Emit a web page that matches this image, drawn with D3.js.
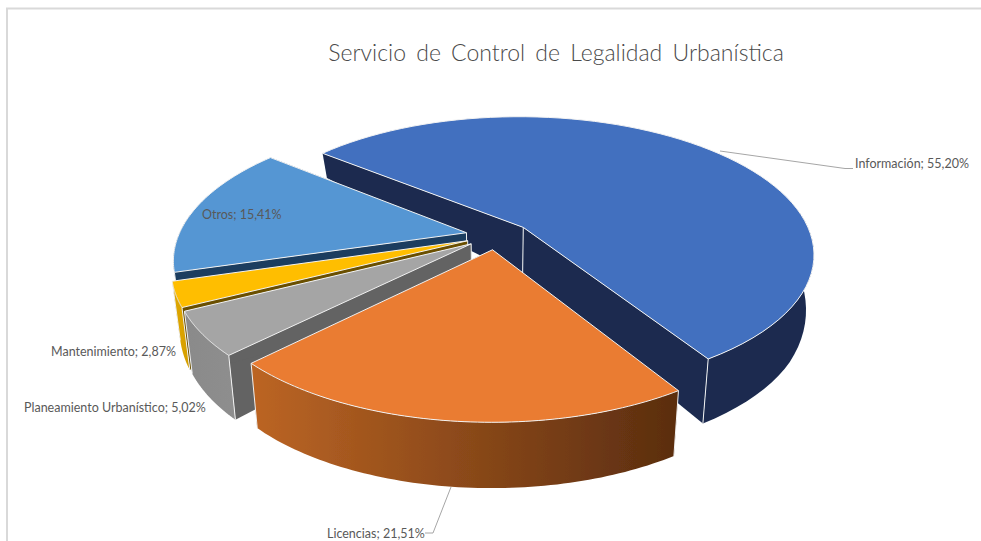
<!DOCTYPE html>
<html lang="es"><head><meta charset="utf-8">
<script src="https://cdn.jsdelivr.net/npm/d3@7"></script>
<style>html,body{margin:0;padding:0;background:#fff;overflow:hidden}svg{display:block}text{font-family:Lato,"Open Sans",sans-serif;fill:#595959}</style>
</head><body><svg id="c" width="981" height="541"></svg>
<script>
const categories = ["Información","Licencias","Planeamiento Urbanístico","Mantenimiento","Otros"];
const seriesValues = [55.20,21.51,5.02,2.87,15.41];
const titleText = "Servicio de Control de Legalidad Urbanística";
const topColors = ["#4270BF","#EA7B30","#A5A5A5","#FFBE00","#5596D3"];
const cutColors = ["#1A2B50","#5E3010","#636363","#6A5000","#1D3E5F"];
const wallFrom  = ["#1A2B50","#BC6524","#8A8A8A","#E0A800","#1D3E5F"];
const wallTo    = ["#1A2B50","#5A2D0F","#8E8E8E","#D49E00","#1D3E5F"];
const explodeBy = [.128,.105,.105,.105,.105];
const explodeLift = [.72,1,1,1,1];
const drawOrder = [0,4,3,2,1];

const svg=d3.select("#c");
const rad=d3.scaleLinear().domain([0,360]).range([0,2*Math.PI]);
const X0=496,Y0=235.5,focal=1362,camD=4.73,sinE=.466,cosE=.885,shrink=.975,N=72;
const depth=d3.scaleLinear().domain([-1,-.63,0,.45,.85,1.15]).range([18,26,52,62,65,66]);
function projTop(x,y){const s=focal/(camD-y*cosE);return [X0+s*x,Y0+s*y*sinE];}
function projBottom(x,y){const p=projTop(x,y);return [X0+(p[0]-X0)*shrink,p[1]+depth(y)];}
const startDeg=-50.9;
const pieGen=d3.pie().sort(null).startAngle(rad(startDeg)).endAngle(rad(startDeg+360));
const arcs=pieGen(seriesValues);
const line=d3.line();
const defs=svg.append("defs");
const blur=defs.append("filter").attr("id","soft").attr("x","-5%").attr("y","-5%").attr("width","110%").attr("height","110%");
blur.append("feGaussianBlur").attr("stdDeviation",.35);
arcs.forEach((a,i)=>{
  const g=defs.append("linearGradient").attr("id","w"+i).attr("x1",0).attr("x2",1).attr("y1",0).attr("y2",0);
  g.append("stop").attr("offset",0).attr("stop-color",wallFrom[i]);
  g.append("stop").attr("offset",1).attr("stop-color",wallTo[i]);
});
svg.append("path").attr("d",line([[7,541],[7,8.5],[981,8.5]])).attr("fill","none").attr("stroke","#D9D9D9").attr("stroke-width",2);

const chart=svg.append("g").attr("filter","url(#soft)");
drawOrder.forEach(i=>{
  const a=arcs[i],mid=(a.startAngle+a.endAngle)/2,ex=explodeBy[i];
  const ox=ex*Math.sin(mid),oy=-ex*Math.cos(mid)*explodeLift[i];
  const ang=d3.range(N+1).map(k=>a.startAngle+(a.endAngle-a.startAngle)*k/N);
  const rim=ang.map(t=>[ox+Math.sin(t),oy-Math.cos(t)]);
  const tp=rim.map(r=>projTop(r[0],r[1])),bt=rim.map(r=>projBottom(r[0],r[1]));
  const g=chart.append("g").attr("class","slice").attr("data-name",categories[i]);
  const edge=(sel)=>sel.attr("stroke","#F2F2F2").attr("stroke-width",1).attr("stroke-linejoin","round");
  const ca=projTop(ox,oy),cb=projBottom(ox,oy);
  [[tp[0],bt[0]],[tp[N],bt[N]]].forEach(([p,q])=>{
    g.append("path").attr("d",line([ca,p,q,cb])+"Z").attr("fill",cutColors[i]);
  });
  const vis=rim.map((r,k)=>k).filter(k=>Math.cos(ang[k])<0.15);
  if(vis.length){
    g.append("path").attr("d",line(vis.map(k=>tp[k]).concat(vis.map(k=>bt[k]).reverse()))+"Z")
     .attr("fill",`url(#w${i})`);
  }
  [0,N].forEach(k=>{
    if(Math.cos(ang[k])<0.15) g.append("path").attr("d",line([tp[k],bt[k]])).attr("fill","none").call(edge);
  });
  g.append("path").attr("d",line([ca,cb])).attr("fill","none").call(edge);
  g.append("path").attr("d",line([ca].concat(tp))+"Z").attr("fill",topColors[i]).call(edge);
});
const leaderInfo=[[720,151],[845,168.5],[853,168.5]];
const leaderLic=[[451,487],[433,533],[425,533]];
[leaderInfo,leaderLic].forEach(l=>svg.append("path").attr("d",line(l)).attr("fill","none").attr("stroke","#A6A6A6").attr("stroke-width",1));
svg.append("text").attr("x",556).attr("y",61).attr("text-anchor","middle").attr("font-size",23).attr("font-weight",300).attr("word-spacing",4).style("fill","#4A4A4A").text(titleText);
const labelAnchors=[[855,168],[327,538],[24,412],[51,356],[202,219]];
const fmt=v=>v.toFixed(2).replace(".",",")+"%";
categories.forEach((c,i)=>{
  svg.append("text").attr("x",labelAnchors[i][0]).attr("y",labelAnchors[i][1]).attr("font-size",12.5).text(`${c}; ${fmt(seriesValues[i])}`);
});
</script></body></html>
